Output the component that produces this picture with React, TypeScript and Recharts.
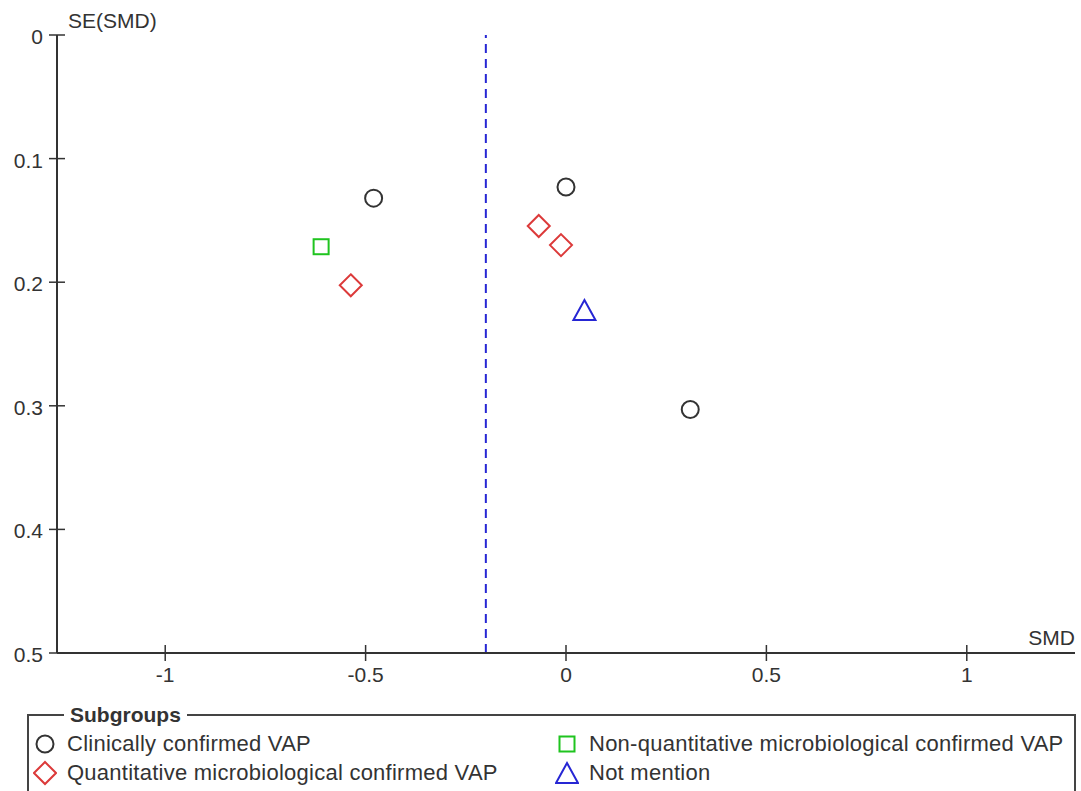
import React from "react"
import { ReferenceLine, Scatter, ScatterChart, XAxis, YAxis, Label } from "recharts"

// SMD / SE(SMD) per study, grouped by how VAP was confirmed
const clinicallyConfirmed = [
  { smd: -0.48, se: 0.132 },
  { smd: 0.0, se: 0.123 },
  { smd: 0.31, se: 0.303 },
]
const quantitativeMicro = [
  { smd: -0.537, se: 0.2025 },
  { smd: -0.068, se: 0.1545 },
  { smd: -0.0125, se: 0.17 },
]
const nonQuantitativeMicro = [{ smd: -0.611, se: 0.1713 }]
const notMention = [{ smd: 0.046, se: 0.2225 }]

const pooledSmd = -0.2
const smdTicks = [-1, -0.5, 0, 0.5, 1]
const seTicks = [0, 0.1, 0.2, 0.3, 0.4, 0.5]

const FONT = '"Liberation Sans", Arial, sans-serif'
const AXIS = "#333"
const BLACK = "#333"
const RED = "#dc3a3a"
const GREEN = "#1fc41f"
const BLUE = "#2626d4"

type ShapeProps = { cx?: number; cy?: number }

const CircleMark = ({ cx = 0, cy = 0 }: ShapeProps) => (
  <circle cx={cx} cy={cy} r={8.5} fill="none" stroke={BLACK} strokeWidth={2} />
)
const DiamondMark = ({ cx = 0, cy = 0 }: ShapeProps) => (
  <path
    d={`M${cx},${cy - 11} L${cx + 11},${cy} L${cx},${cy + 11} L${cx - 11},${cy} Z`}
    fill="none"
    stroke={RED}
    strokeWidth={2}
  />
)
const SquareMark = ({ cx = 0, cy = 0 }: ShapeProps) => (
  <rect x={cx - 7.5} y={cy - 7.5} width={15} height={15} fill="none" stroke={GREEN} strokeWidth={2} />
)
const TriangleMark = ({ cx = 0, cy = 0 }: ShapeProps) => (
  <path
    d={`M${cx},${cy - 10} L${cx + 11},${cy + 10} L${cx - 11},${cy + 10} Z`}
    fill="none"
    stroke={BLUE}
    strokeWidth={2}
  />
)

const fmt = (v: number) => String(v)

// ticks cross the axis line on both sides
const XTick = ({ x, y, payload }: any) => {
  const axisY = y - 12
  return (
    <g>
      <line x1={x} x2={x} y1={axisY - 8} y2={axisY + 8} stroke={AXIS} strokeWidth={1.5} />
      <text x={x} y={y} dy={17} textAnchor="middle" fill="#333" fontSize={21} fontFamily={FONT}>
        {fmt(payload.value)}
      </text>
    </g>
  )
}

const YTick = ({ x, y, payload }: any) => {
  const axisX = x + 16
  return (
    <g>
      <line x1={axisX - 8} x2={axisX + 8} y1={y} y2={y} stroke={AXIS} strokeWidth={1.5} />
      <text x={x + 2} y={y} dy={9} textAnchor="end" fill="#333" fontSize={21} fontFamily={FONT}>
        {fmt(payload.value)}
      </text>
    </g>
  )
}

const legendItems = [
  { name: "Clinically confirmed VAP", Mark: CircleMark, left: 33, top: 731 },
  { name: "Quantitative microbiological confirmed VAP", Mark: DiamondMark, left: 33, top: 760 },
  { name: "Non-quantitative microbiological confirmed VAP", Mark: SquareMark, left: 555, top: 731 },
  { name: "Not mention", Mark: TriangleMark, left: 555, top: 760 },
]

export default function App() {
  return (
    <div
      style={{
        position: "absolute",
        left: 0,
        top: 0,
        width: 1081,
        height: 791,
        overflow: "hidden",
        background: "#fff",
        fontFamily: FONT,
      }}
    >
      <ScatterChart width={1081} height={700} margin={{ top: 35, right: 6, left: 7, bottom: 7 }}>
        <XAxis
          type="number"
          dataKey="smd"
          domain={[-1.27, 1.27]}
          ticks={smdTicks}
          allowDataOverflow
          height={40}
          axisLine={{ stroke: AXIS, strokeWidth: 2 }}
          tickLine={false}
          tickSize={8}
          tickMargin={4}
          tick={<XTick />}
        >
          <Label
            content={({ viewBox }: any) => (
              <text
                x={viewBox.x + viewBox.width}
                y={viewBox.y - 8}
                textAnchor="end"
                fill="#333"
                fontSize={21}
                fontFamily={FONT}
              >
                SMD
              </text>
            )}
          />
        </XAxis>
        <YAxis
          type="number"
          dataKey="se"
          domain={[0, 0.5]}
          ticks={seTicks}
          reversed
          allowDataOverflow
          width={50}
          axisLine={{ stroke: AXIS, strokeWidth: 2 }}
          tickLine={false}
          tickSize={8}
          tickMargin={8}
          tick={<YTick />}
        >
          <Label
            content={({ viewBox }: any) => (
              <text
                x={viewBox.x + viewBox.width + 11}
                y={28}
                textAnchor="start"
                fill="#333"
                fontSize={21}
                fontFamily={FONT}
              >
                SE(SMD)
              </text>
            )}
          />
        </YAxis>
        <ReferenceLine x={pooledSmd} stroke={BLUE} strokeWidth={2} strokeDasharray="9 6" />
        <Scatter name="Clinically confirmed VAP" data={clinicallyConfirmed} shape={<CircleMark />} isAnimationActive={false} />
        <Scatter name="Quantitative microbiological confirmed VAP" data={quantitativeMicro} shape={<DiamondMark />} isAnimationActive={false} />
        <Scatter name="Non-quantitative microbiological confirmed VAP" data={nonQuantitativeMicro} shape={<SquareMark />} isAnimationActive={false} />
        <Scatter name="Not mention" data={notMention} shape={<TriangleMark />} isAnimationActive={false} />
      </ScatterChart>

      <fieldset
        style={{
          position: "absolute",
          left: 27,
          top: 703,
          width: 1049,
          height: 140,
          margin: 0,
          padding: 0,
          boxSizing: "border-box",
          border: "2px solid #444",
        }}
      >
        <legend
          style={{
            marginLeft: 35,
            padding: "0 6px",
            fontWeight: "bold",
            fontSize: 21,
            lineHeight: "24px",
            color: "#333",
          }}
        >
          Subgroups
        </legend>
      </fieldset>

      {legendItems.map(({ name, Mark, left, top }) => (
        <div
          key={name}
          style={{ position: "absolute", left, top, display: "flex", alignItems: "center", height: 26 }}
        >
          <svg width={24} height={26}>
            <Mark cx={12} cy={13} />
          </svg>
          <span
            style={{
              marginLeft: 10,
              fontSize: 22,
              letterSpacing: 0.25,
              lineHeight: "26px",
              color: "#333",
              whiteSpace: "nowrap",
            }}
          >
            {name}
          </span>
        </div>
      ))}
    </div>
  )
}
